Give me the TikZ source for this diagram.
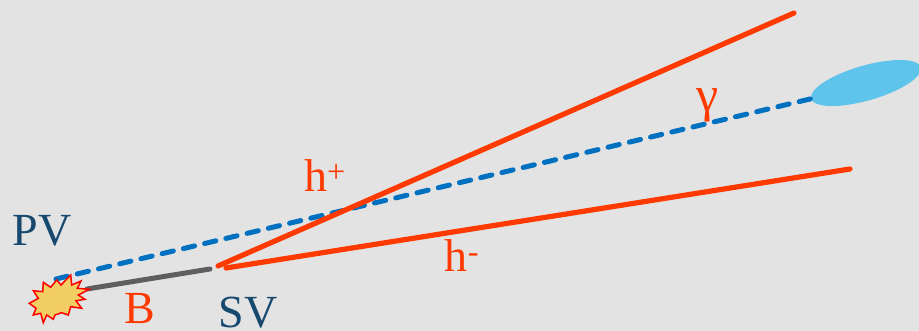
\documentclass[tikz,border=0pt]{standalone}
\usepackage{fontspec}
\usetikzlibrary{shapes.geometric}
\setmainfont{Liberation Serif}
\definecolor{bgc}{HTML}{E3E3E3}
\definecolor{redc}{HTML}{FF3A00}
\definecolor{bluec}{HTML}{0070C0}
\definecolor{navy}{HTML}{17496F}
\definecolor{ell}{HTML}{5FC4EC}
\definecolor{starc}{HTML}{F3CE62}
\definecolor{grayc}{HTML}{5F5F5F}
\tikzset{x=1pt,y=-1pt,
 track/.style={draw=redc,line width=5.2pt,line cap=round},
 photon/.style={draw=bluec,line width=5pt,line cap=round,dash pattern=on 11.5pt off 10.33pt},
 lbl/.style={inner sep=0pt,font=\fontsize{46}{48}\selectfont}}
\begin{document}
\begin{tikzpicture}
\useasboundingbox (0,0) rectangle (919,331);
\fill[bgc] (0,0) rectangle (919,331);
\coordinate (pv) at (56,279);
\coordinate (svp) at (218,266);
\coordinate (svm) at (226,268);
\coordinate (hp) at (794,13);
\coordinate (hm) at (850,169);
\coordinate (bs) at (87,289);
\coordinate (be) at (210,269);
\begin{scope}
\clip (0,0) rectangle (919,331);
\node[fill=ell,ellipse,rotate=16,minimum width=114pt,minimum height=35pt,inner sep=0pt] (cl) at (866,83) {};
\end{scope}
\draw[photon] (pv) -- (cl.west);
\draw[draw=grayc,line width=5pt,line cap=round] (bs) -- (be);
\draw[track] (svp) -- (hp);
\draw[track] (svm) -- (hm);
\fill[starc,draw=red,line width=1.5pt] (29.3,303.3) -- (38.3,298.3) -- (33.3,290.7) -- (42.7,291.7) -- (43.3,282.3) -- (50.7,287.3) -- (56.7,280) -- (61,285) -- (70.7,275) -- (71.7,285) -- (81,281) -- (77.3,288.3) -- (89.3,289.3) -- (78.3,295) -- (85,299.3) -- (76,300.7) -- (81.7,308.3) -- (70.7,306.7) -- (68.3,315) -- (61.7,312.7) -- (55,315) -- (53.3,319.3) -- (46.7,315) -- (43.3,322.7) -- (40.7,313.3) -- (33.3,315) -- (36,308.3) -- cycle;
\node[lbl,text=navy] (pvl) at (42,231) {PV};
\node[lbl,text=navy] (svl) at (248,313) {SV};
\node[lbl,text=redc] (bl) at (140,309) {B};
\node[lbl,text=redc] (hpl) at (325,176) {h\textsuperscript{+}};
\node[lbl,text=redc] (hml) at (462,256) {h\textsuperscript{-}};
\node[lbl,text=redc,font=\fontsize{50}{52}\selectfont] (gl) at (708,105) {γ};
\end{tikzpicture}
\end{document}
